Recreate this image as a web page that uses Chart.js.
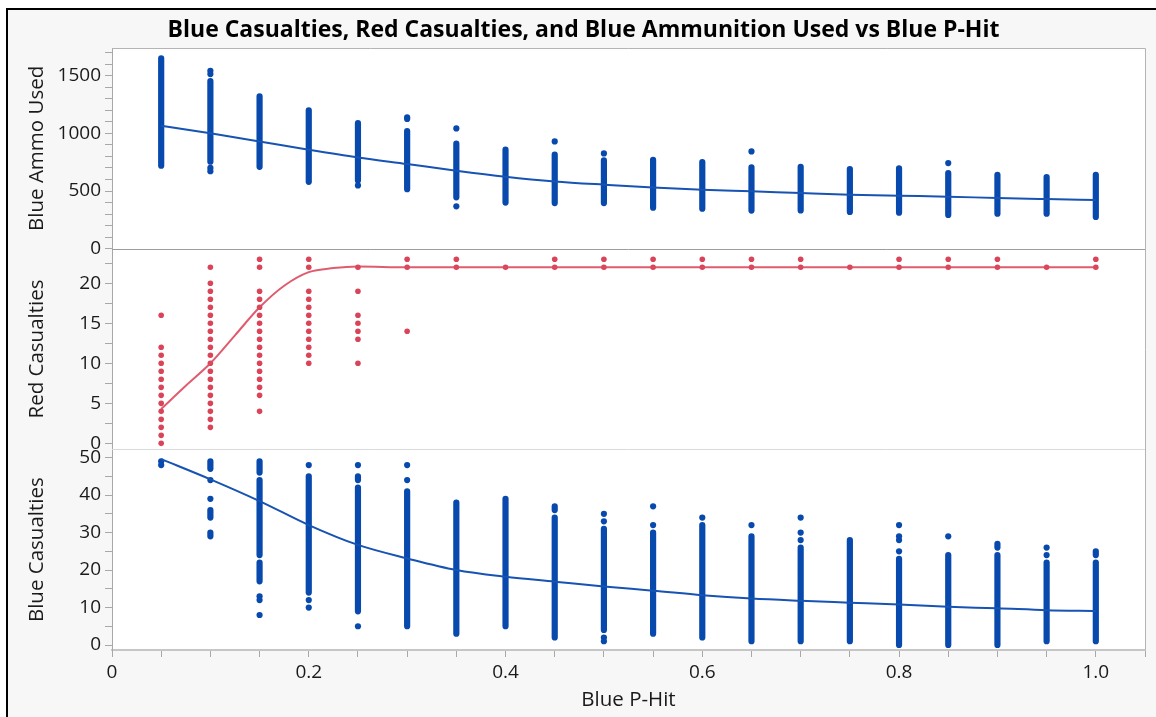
<!DOCTYPE html>
<html>
<head>
<meta charset="utf-8">
<script src="https://cdn.jsdelivr.net/npm/chart.js@4.4.1/dist/chart.umd.min.js"></script>
<style>
  html, body { margin: 0; padding: 0; background: #fff; }
  #frame {
    position: absolute; left: 6px; top: 8px; width: 1148px; height: 707px;
    border-left: 2px solid #000; border-top: 2px solid #000; background: #f7f7f7;
  }
  #wrap { position: absolute; left: 8px; top: 10px; width: 1148px; height: 707px; }
</style>
</head>
<body>
<div id="frame"></div>
<div id="wrap"><canvas id="myChart"></canvas></div>
<script>
// x categories (Blue P-Hit)
const pHit = [0.05, 0.10, 0.15, 0.20, 0.25, 0.30, 0.35, 0.40, 0.45, 0.50,
  0.55, 0.60, 0.65, 0.70, 0.75, 0.80, 0.85, 0.90, 0.95, 1.00];

// Blue Ammo Used: solid runs of dots [low, high] per column, plus lone dots
const ammoRuns = [[[720, 1650]], [[754, 1453]], [[710, 1320]], [[580, 1200]], [[590, 1088]],
  [[515, 1020]], [[445, 910]], [[400, 858]], [[395, 815]], [[395, 765]],
  [[355, 770]], [[347, 751]], [[330, 706]], [[332, 710]], [[318, 690]],
  [[312, 696]], [[292, 656]], [[303, 641]], [[303, 621]], [[275, 641]]];
const ammoDots = [[], [1542, 1514, 700, 672], [], [], [548], [1138, 1125], [1043, 367], [], [930], [826],
  [], [], [843], [], [], [], [742], [], [], []];
const ammoFit = [1066, 1000, 930, 858, 791, 734, 676, 624, 583, 555,
  531, 511, 497, 482, 468, 459, 451, 439, 430, 422];

// Red Casualties: every dot per column
const redDots = [
  [16, 12, 11, 10, 9, 8, 7, 6, 5, 4, 3, 2, 1, 0],
  [22, 20, 19, 18, 17, 16, 15, 14, 13, 12, 11, 10, 9, 8, 7, 6, 5, 4, 3, 2],
  [23, 22, 19, 18, 17, 16, 15, 14, 13, 12, 11, 10, 9, 8, 7, 6, 4],
  [23, 22, 19, 18, 17, 16, 15, 14, 13, 12, 11, 10],
  [22, 19, 16, 15, 14, 13, 10],
  [23, 22, 14],
  [23, 22], [22], [23, 22], [23, 22], [23, 22], [23, 22], [23, 22], [23, 22],
  [22], [23, 22], [23, 22], [23, 22], [22], [23, 22]];
const redFitX = [0.05, 0.075, 0.10, 0.125, 0.15, 0.175, 0.20, 0.225, 0.25, 0.30, 0.35, 0.40,
  0.45, 0.50, 0.55, 0.60, 0.65, 0.70, 0.75, 0.80, 0.85, 0.90, 0.95, 1.00];
const redFit = [4.3, 7.2, 10.0, 13.5, 17.0, 19.7, 21.4, 21.9, 22.1, 22.0, 22.0, 22.0,
  22.0, 22.0, 22.0, 22.0, 22.0, 22.0, 22.0, 22.0, 22.0, 22.0, 22.0, 22.0];

// Blue Casualties: runs [low, high] and lone dots per column
const blueRuns = [[], [[47, 49], [34, 36], [29, 30]], [[46, 49], [24, 44], [17, 22]], [[14, 45]],
  [[9, 42], [44, 45]], [[5, 41]], [[3, 38]], [[5, 39]], [[2, 34], [36, 37]], [[4, 31]],
  [[3, 30]], [[2, 32]], [[1, 29]], [[1, 26]], [[1, 28]], [[0, 23]], [[0, 24]],
  [[0, 24], [26, 27]], [[1, 22]], [[1, 22], [24, 25]]];
const blueDots = [[49, 48], [44, 39], [13, 12, 8], [48, 12, 10], [48, 5], [48, 44], [], [], [], [35, 33, 2, 1],
  [37, 32], [34], [32], [34, 30, 28], [], [32, 29, 28, 25], [29], [], [26, 24], []];
const blueFit = [49.6, 44.2, 38.4, 32.0, 26.7, 23.1, 20.0, 18.2, 16.9, 15.6,
  14.5, 13.3, 12.4, 11.8, 11.3, 10.8, 10.2, 9.8, 9.3, 9.1];

const BLUE = '#0849ad';
const BLUE_LINE = '#1753b3';
const RED = '#da4459';
const TXT = '#1a1a1a';

function runPoints(runs) {
  const pts = [];
  runs.forEach(function (col, i) {
    col.forEach(function (r) {
      pts.push({ x: pHit[i], y: r[0] }, { x: pHit[i], y: r[1] }, { x: pHit[i], y: null });
    });
  });
  return pts;
}
function dotPoints(cols) {
  const pts = [];
  cols.forEach(function (col, i) {
    col.forEach(function (v) { pts.push({ x: pHit[i], y: v }); });
  });
  return pts;
}
function fitPoints(xs, ys) {
  return ys.map(function (v, i) { return { x: xs[i], y: v }; });
}
function isMult(v, step) {
  return Math.abs(v / step - Math.round(v / step)) < 1e-6;
}

const panelFrame = {
  id: 'panelFrame',
  beforeDraw(chart) {
    const a = chart.chartArea, c = chart.ctx;
    c.save();
    c.fillStyle = '#fff';
    c.fillRect(a.left, a.top, a.right - a.left, a.bottom - a.top);
    c.restore();
  },
  afterDraw(chart) {
    const a = chart.chartArea, c = chart.ctx;
    c.save();
    c.lineWidth = 1;
    c.strokeStyle = '#b4b4b4';
    c.beginPath();
    c.moveTo(a.left, Math.round(a.top) + 0.5);
    c.lineTo(Math.round(a.right) + 0.5, Math.round(a.top) + 0.5);
    c.lineTo(Math.round(a.right) + 0.5, a.bottom);
    c.stroke();
    const y1 = Math.round(chart.scales.yA.bottom) + 0.5;
    c.strokeStyle = '#9c9c9c';
    c.beginPath(); c.moveTo(a.left, y1); c.lineTo(a.right, y1); c.stroke();
    const y2 = Math.round(chart.scales.yR.bottom) + 0.5;
    c.strokeStyle = '#dadada';
    c.beginPath(); c.moveTo(a.left, y2); c.lineTo(a.right, y2); c.stroke();
    c.restore();
  }
};

function yScale(title, min, max, step, labelStep, weight) {
  return {
    type: 'linear', position: 'left', stack: 'panels', stackWeight: 1, weight: weight,
    min: min, max: max,
    ticks: {
      stepSize: step, autoSkip: false, color: TXT, font: { size: 19 }, padding: 4,
      includeBounds: false,
      callback: function (v) { return isMult(v, labelStep) ? String(Math.round(v)) : ''; }
    },
    grid: { drawOnChartArea: false, tickLength: 7, tickColor: '#a8a8a8' },
    border: { color: '#a8a8a8', width: 1 },
    title: { display: true, text: title, color: TXT, font: { size: 20.5 }, padding: { top: 2.7, bottom: 0 } },
    afterFit: function (s) { s.width = 90; }
  };
}

Chart.defaults.font.family = '"Open Sans", sans-serif';

const ctx = document.getElementById('myChart').getContext('2d');
const myChart = new Chart(ctx, {
  data: {
    datasets: [
      { type: 'line', data: fitPoints(pHit, ammoFit), yAxisID: 'yA', borderColor: BLUE_LINE, borderWidth: 2,
        pointRadius: 0, cubicInterpolationMode: 'monotone', order: 0 },
      { type: 'line', data: fitPoints(redFitX, redFit), yAxisID: 'yR', borderColor: 'rgba(220,74,94,0.9)', borderWidth: 2,
        pointRadius: 0, cubicInterpolationMode: 'monotone', order: 0 },
      { type: 'line', data: fitPoints(pHit, blueFit), yAxisID: 'yB', borderColor: BLUE_LINE, borderWidth: 2,
        pointRadius: 0, cubicInterpolationMode: 'monotone', order: 0 },
      { type: 'line', data: runPoints(ammoRuns), yAxisID: 'yA', borderColor: BLUE, borderWidth: 6.2,
        borderCapStyle: 'round', pointRadius: 0, spanGaps: false, order: 2 },
      { type: 'scatter', data: dotPoints(ammoDots), yAxisID: 'yA', backgroundColor: BLUE, borderWidth: 0,
        pointRadius: 3.1, order: 1 },
      { type: 'scatter', data: dotPoints(redDots), yAxisID: 'yR', backgroundColor: RED, borderWidth: 0,
        pointRadius: 2.8, order: 1 },
      { type: 'line', data: runPoints(blueRuns), yAxisID: 'yB', borderColor: BLUE, borderWidth: 6.2,
        borderCapStyle: 'round', pointRadius: 0, spanGaps: false, order: 2 },
      { type: 'scatter', data: dotPoints(blueDots), yAxisID: 'yB', backgroundColor: BLUE, borderWidth: 0,
        pointRadius: 3.1, order: 1 }
    ]
  },
  options: {
    responsive: true,
    maintainAspectRatio: false,
    animation: false,
    layout: { padding: { left: 14, right: 11, top: 0, bottom: 0 } },
    plugins: {
      legend: { display: false },
      tooltip: { enabled: false },
      title: {
        display: true,
        text: 'Blue Casualties, Red Casualties, and Blue Ammunition Used vs Blue P-Hit',
        color: '#000',
        font: { size: 23, weight: 'bold' },
        padding: { top: 6.2, bottom: 4.2 }
      }
    },
    scales: {
      x: {
        type: 'linear', min: 0, max: 1.05,
        ticks: {
          stepSize: 0.05, autoSkip: false, maxRotation: 0, color: TXT, font: { size: 19 }, padding: 4,
          includeBounds: false,
          callback: function (v) { return isMult(v, 0.2) ? (v === 0 ? '0' : v.toFixed(1)) : ''; }
        },
        grid: { drawOnChartArea: false, tickLength: 7, tickColor: '#a8a8a8' },
        border: { color: '#c6c6c6', width: 2 },
        title: { display: true, text: 'Blue P-Hit', color: TXT, font: { size: 20.5 }, padding: { top: 0, bottom: 5 } },
        afterFit: function (s) { s.height = 67; }
      },
      yA: yScale('Blue Ammo Used', 0, 1740, 100, 500, 3),
      yR: yScale('Red Casualties', -0.75, 24.33, 2.5, 5, 2),
      yB: yScale('Blue Casualties', -1.33, 52.2, 5, 10, 1)
    }
  },
  plugins: [panelFrame]
});
</script>
</body>
</html>
